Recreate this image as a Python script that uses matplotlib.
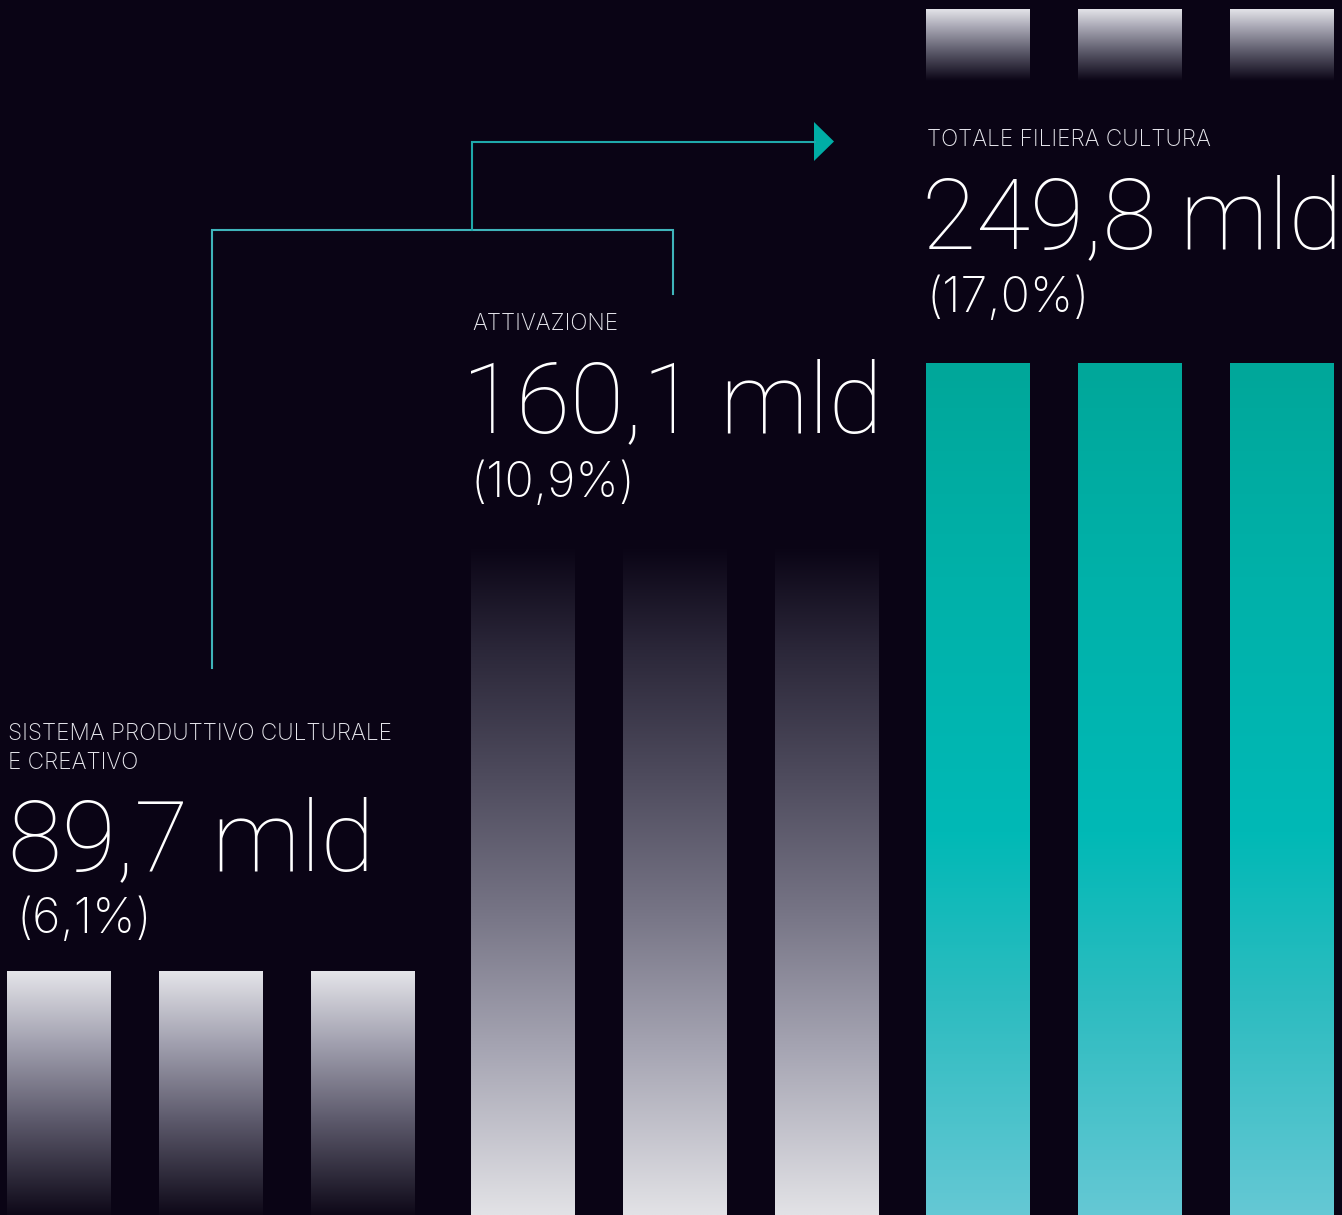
import matplotlib
matplotlib.use('Agg')
import matplotlib.pyplot as plt
import numpy as np
from matplotlib.colors import LinearSegmentedColormap

# dati del grafico
categorie = ["SISTEMA PRODUTTIVO CULTURALE\nE CREATIVO", "ATTIVAZIONE", "TOTALE FILIERA CULTURA"]
valori = ["89,7 mld", "160,1 mld", "249,8 mld"]
quote = ["(6,1%)", "(10,9%)", "(17,0%)"]
altezze = [244, 670, 852]          # altezza delle barre (px)
altezza_blocco = 72                # blocchi grigi sopra il totale
base_blocco = 1134

W, H = 1342, 1215
SFONDO = '#0a0415'
TEAL = '#1fa9ab'

plt.rcParams['font.family'] = ['Roboto', 'DejaVu Sans']

fig = plt.figure(figsize=(W / 100, H / 100), dpi=100)
fig.patch.set_facecolor(SFONDO)
ax = fig.add_axes([0, 0, 1, 1])
ax.set_facecolor(SFONDO)
ax.set_xlim(0, W)
ax.set_ylim(0, H)
ax.axis('off')

cmap_chiaro_scuro = LinearSegmentedColormap.from_list('a', [
    (0.0, '#0e0818'), (0.15, '#2c2838'), (0.4, '#5f5c6e'), (0.7, '#a09fae'), (1.0, '#e4e4e9')])
cmap_scuro_chiaro = LinearSegmentedColormap.from_list('b', [
    (0.0, '#e2e2e6'), (0.25, '#a5a4b2'), (0.45, '#777586'), (0.65, '#4f4c5e'), (0.85, '#2a2638'), (1.0, SFONDO)])
cmap_teal = LinearSegmentedColormap.from_list('c', [
    (0.0, '#64c8d4'), (0.25, '#2dbcc0'), (0.45, '#00b9b6'), (0.75, '#00b1a9'), (1.0, '#00a79a')])
cmap_blocco = LinearSegmentedColormap.from_list('d', [
    (0.0, SFONDO), (0.08, '#1a1526'), (0.4, '#5a5868'), (0.75, '#a8a7b4'), (1.0, '#e3e3e8')])
mappe = [cmap_chiaro_scuro, cmap_scuro_chiaro, cmap_teal]

inizio_gruppi = [7, 471, 926]
larghezza = 104
passo = 152
grad = np.linspace(0, 1, 256).reshape(-1, 1)


def barra_sfumata(x, bottom, h, cmap):
    b = ax.bar(x, h, width=larghezza, bottom=bottom, align='edge', color='none', linewidth=0)[0]
    im = ax.imshow(grad, cmap=cmap, origin='lower', aspect='auto',
                   extent=(x, x + larghezza, bottom, bottom + h), interpolation='bilinear')
    im.set_clip_path(b)


for g in range(3):
    for k in range(3):
        x = inizio_gruppi[g] + k * passo
        barra_sfumata(x, 0, altezze[g], mappe[g])
        if g == 2:
            barra_sfumata(x, base_blocco, altezza_blocco, cmap_blocco)

ax.set_xlim(0, W)
ax.set_ylim(0, H)

# testi
font_piccolo = ['Inter', 'Roboto', 'DejaVu Sans']
pos_cat = [(8, 769), (472, 330), (927, 146)]
pos_val = [(8, 870), (462, 432), (922, 248)]
pos_quota = [(17, 933), (471, 497), (927, 312)]
for i in range(3):
    ax.text(pos_cat[i][0], H - pos_cat[i][1], categorie[i], color='#e8e8ee', fontsize=16.3,
            family=font_piccolo, fontweight='light', va='baseline', ha='left', linespacing=1.4)
    ax.text(pos_val[i][0], H - pos_val[i][1], valori[i], color='white', fontsize=71,
            fontweight='light', va='baseline', ha='left')
    ax.text(pos_quota[i][0], H - pos_quota[i][1], quote[i], color='white', fontsize=35,
            family=font_piccolo, fontweight='light', va='baseline', ha='left')

# connettori
ax.plot([212, 212, 673, 673], [H - 668, H - 230, H - 230, H - 294], color='#3fb4ba', lw=1.5,
        solid_joinstyle='miter')
ax.plot([472, 472, 815], [H - 230, H - 142, H - 142], color=TEAL, lw=1.5, solid_joinstyle='miter')
ax.fill([814, 814, 834], [H - 122, H - 161, H - 141.5], color='#00ada5', lw=0)

fig.savefig('out.png', dpi=100, facecolor=SFONDO)
